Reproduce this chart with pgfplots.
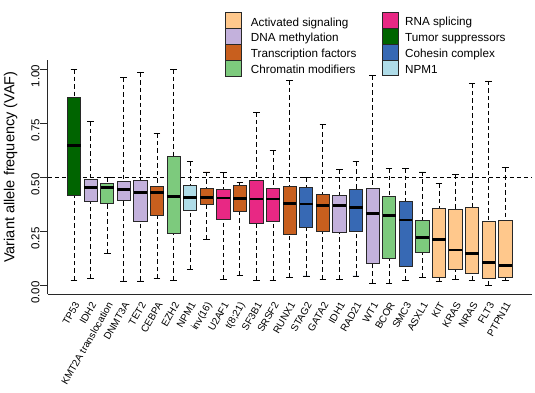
\documentclass[border=0pt]{standalone}
\usepackage{fontspec}
\setmainfont{Liberation Sans}
\usepackage{pgfplots}
\pgfplotsset{compat=1.18}
\usepgfplotslibrary{statistics}

\definecolor{act}{RGB}{255,200,140}
\definecolor{dnam}{RGB}{195,177,220}
\definecolor{tf}{RGB}{200,95,30}
\definecolor{chrom}{RGB}{125,202,125}
\definecolor{rna}{RGB}{232,40,132}
\definecolor{tsup}{RGB}{0,100,0}
\definecolor{coh}{RGB}{55,105,180}
\definecolor{npm}{RGB}{175,220,232}
\definecolor{boxdraw}{RGB}{40,40,40}

\pgfplotsset{
  boxplot/draw/lower whisker/.code={%
    \draw[dash pattern=on 4.5pt off 3pt, line width=0.8pt, draw=black, fill=none]
      (boxplot cs:\pgfplotsboxplotvalue{lower whisker}) -- (boxplot cs:\pgfplotsboxplotvalue{lower quartile});
    \draw[line width=0.8pt, draw=black, solid]
      (boxplot whisker cs:\pgfplotsboxplotvalue{lower whisker},0) -- (boxplot whisker cs:\pgfplotsboxplotvalue{lower whisker},1);
  },
  boxplot/draw/upper whisker/.code={%
    \draw[dash pattern=on 4.5pt off 3pt, line width=0.8pt, draw=black, fill=none]
      (boxplot cs:\pgfplotsboxplotvalue{upper whisker}) -- (boxplot cs:\pgfplotsboxplotvalue{upper quartile});
    \draw[line width=0.8pt, draw=black, solid]
      (boxplot whisker cs:\pgfplotsboxplotvalue{upper whisker},0) -- (boxplot whisker cs:\pgfplotsboxplotvalue{upper whisker},1);
  },
}

% draw position, lower whisker, lower quartile, median, upper quartile, upper whisker, colour
\newcommand{\bx}[7]{%
  \addplot[boxplot prepared={draw direction=y, draw position=#1, lower whisker=#2, lower quartile=#3,
    median=#4, upper quartile=#5, upper whisker=#6, box extend=0.8, whisker extend=0.4},
    fill=#7, draw=boxdraw, line width=0.8pt,
    boxplot/every median/.style={draw=black, line width=2.8pt}] coordinates {};}

\newcommand{\pxy}[2]{({#1pt-47.8pt},{294.4pt-#2pt})}

\begin{document}
\begin{tikzpicture}
\useasboundingbox (-47.8pt,-98.6pt) rectangle (487.2pt,294.4pt);
\begin{axis}[
  at={(0pt,0pt)}, anchor=south west,
  scale only axis, width=483.7pt, height=234pt,
  xmin=-0.58, xmax=28.58, ymin=-0.04, ymax=1.04,
  axis x line*=bottom, axis y line*=left,
  axis line style={line width=0.9pt, draw=boxdraw},
  xtick={1,...,27},
  xticklabels={TP53,IDH2,KMT2A translocation,DNMT3A,TET2,CEBPA,EZH2,NPM1,inv(16),U2AF1,t(8;21),SF3B1,SRSF2,RUNX1,STAG2,GATA2,IDH1,RAD21,WT1,BCOR,SMC3,ASXL1,KIT,KRAS,NRAS,FLT3,PTPN11},
  xtick style={draw=none},
  xticklabel style={rotate=60, anchor=east, inner sep=0pt, font=\fontsize{10}{12}\selectfont, xshift=1pt, yshift=-3pt},
  ytick={0,0.25,0.5,0.75,1},
  yticklabels={0.00,0.25,0.50,0.75,1.00},
  ytick pos=left, tick align=outside, major tick length=8pt,
  ytick style={line width=0.8pt, draw=boxdraw},
  yticklabel style={rotate=90, anchor=south, inner sep=0pt, font=\fontsize{11.5}{13}\selectfont, xshift=-7pt},
  ylabel={Variant allele frequency (VAF)},
  ylabel style={at={(axis description cs:-0.077,0.544)}, anchor=center, font=\fontsize{14.5}{17}\selectfont},
  clip=false,
]
\addplot[black, line width=1.4pt, dash pattern=on 4pt off 3pt] coordinates {(-0.58,0.5) (28.58,0.5)};
\bx{1}{0.026}{0.415}{0.649}{0.871}{1.000}{tsup}
\bx{2}{0.032}{0.389}{0.454}{0.491}{0.758}{dnam}
\bx{3}{0.148}{0.382}{0.452}{0.472}{0.500}{chrom}
\bx{4}{0.022}{0.395}{0.443}{0.480}{0.963}{dnam}
\bx{5}{0.022}{0.295}{0.429}{0.486}{0.983}{dnam}
\bx{6}{0.032}{0.323}{0.429}{0.460}{0.703}{tf}
\bx{7}{0.026}{0.242}{0.411}{0.595}{1.000}{chrom}
\bx{8}{0.074}{0.348}{0.408}{0.463}{0.575}{npm}
\bx{9}{0.215}{0.375}{0.406}{0.451}{0.525}{tf}
\bx{10}{0.028}{0.308}{0.405}{0.445}{0.523}{rna}
\bx{11}{0.049}{0.345}{0.402}{0.462}{0.478}{tf}
\bx{12}{0.026}{0.289}{0.400}{0.486}{0.800}{rna}
\bx{13}{0.023}{0.295}{0.400}{0.448}{0.625}{rna}
\bx{14}{0.037}{0.237}{0.380}{0.458}{0.949}{tf}
\bx{15}{0.045}{0.269}{0.377}{0.454}{0.498}{coh}
\bx{16}{0.029}{0.249}{0.371}{0.423}{0.743}{tf}
\bx{17}{0.029}{0.248}{0.371}{0.418}{0.535}{dnam}
\bx{18}{0.045}{0.252}{0.362}{0.445}{0.572}{coh}
\bx{19}{0.011}{0.105}{0.334}{0.449}{0.971}{dnam}
\bx{20}{0.011}{0.126}{0.325}{0.412}{0.543}{chrom}
\bx{21}{0.023}{0.091}{0.303}{0.391}{0.543}{coh}
\bx{22}{0.037}{0.155}{0.223}{0.300}{0.525}{chrom}
\bx{23}{0.022}{0.037}{0.215}{0.355}{0.471}{act}
\bx{24}{0.029}{0.077}{0.165}{0.352}{0.515}{act}
\bx{25}{0.023}{0.055}{0.148}{0.360}{0.934}{act}
\bx{26}{0.003}{0.032}{0.108}{0.295}{0.945}{act}
\bx{27}{0.026}{0.038}{0.092}{0.300}{0.545}{act}
\end{axis}

% legend
\begin{scope}[line width=0.6pt]
\filldraw[fill=act,   draw=boxdraw] \pxy{225.7}{12.7} rectangle \pxy{241.7}{28.5};
\filldraw[fill=dnam,  draw=boxdraw] \pxy{225.7}{28.5} rectangle \pxy{241.7}{44.3};
\filldraw[fill=tf,    draw=boxdraw] \pxy{225.7}{44.3} rectangle \pxy{241.7}{60.1};
\filldraw[fill=chrom, draw=boxdraw] \pxy{225.7}{60.1} rectangle \pxy{241.7}{75.9};
\filldraw[fill=rna,   draw=boxdraw] \pxy{382.7}{12.5} rectangle \pxy{398.7}{28.3};
\filldraw[fill=tsup,  draw=boxdraw] \pxy{382.7}{28.3} rectangle \pxy{398.7}{44.1};
\filldraw[fill=coh,   draw=boxdraw] \pxy{382.7}{44.1} rectangle \pxy{398.7}{59.9};
\filldraw[fill=npm,   draw=boxdraw] \pxy{382.7}{59.9} rectangle \pxy{398.7}{75.7};
\end{scope}
\begin{scope}[every node/.style={anchor=base west, inner sep=0pt, font=\fontsize{11.7}{14}\selectfont}]
\node at \pxy{250.7}{26.2} {Activated signaling};
\node at \pxy{250.7}{42.0} {DNA methylation};
\node at \pxy{250.7}{57.8} {Transcription factors};
\node at \pxy{250.7}{73.6} {Chromatin modifiers};
\node at \pxy{405}{26.0} {RNA splicing};
\node at \pxy{405}{41.8} {Tumor suppressors};
\node at \pxy{405}{57.6} {Cohesin complex};
\node at \pxy{405}{73.4} {NPM1};
\end{scope}
\end{tikzpicture}
\end{document}
